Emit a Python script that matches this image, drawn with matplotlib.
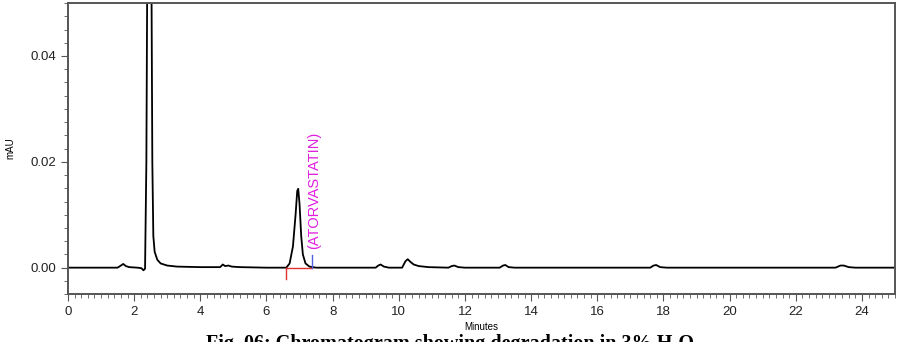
import numpy as np
import matplotlib
matplotlib.use("Agg")
import matplotlib.pyplot as plt
from matplotlib.ticker import MultipleLocator

# retention time (min) and absorbance (mAU)
minutes = [0.0, 1.5, 1.6, 1.67, 1.75, 1.85, 2.1, 2.22, 2.28, 2.33, 2.37, 2.40,
           2.45, 2.52, 2.55, 2.58, 2.62, 2.7, 2.8, 3.0, 3.3, 4.0, 4.6, 4.68,
           4.75, 4.85, 4.95, 5.2, 6.0, 6.6, 6.7, 6.8, 6.88, 6.93, 6.96, 7.0,
           7.05, 7.1, 7.18, 7.3, 7.5, 9.3, 9.38, 9.45, 9.55, 9.7, 10.1, 10.2,
           10.27, 10.35, 10.45, 10.6, 10.9, 11.5, 11.6, 11.68, 11.8, 12.0,
           13.05, 13.15, 13.22, 13.32, 13.5, 17.6, 17.7, 17.78, 17.9, 18.1,
           23.2, 23.35, 23.45, 23.6, 23.8, 25.0]
mau = [0.0, 0.0, 0.0004, 0.0007, 0.0003, 0.0001, 0.0, -0.0001, -0.0005,
       -0.0002, 0.02, 0.06, 0.08, 0.06, 0.02, 0.006, 0.003, 0.0015, 0.0008,
       0.0004, 0.0002, 0.0001, 0.0001, 0.0006, 0.0003, 0.0004, 0.0002, 0.0001,
       0.0, 0.0, 0.0008, 0.004, 0.010, 0.0145, 0.0149, 0.012, 0.006, 0.0025,
       0.0008, 0.0002, 0.0, 0.0, 0.0004, 0.0006, 0.0002, 0.0, 0.0, 0.0012,
       0.0016, 0.0011, 0.0006, 0.0003, 0.0001, 0.0, 0.0003, 0.0004, 0.0001,
       0.0, 0.0, 0.0004, 0.0005, 0.0001, 0.0, 0.0, 0.0004, 0.0005, 0.0001,
       0.0, 0.0, 0.0004, 0.0004, 0.0001, 0.0, 0.0]

peak_name = "(ATORVASTATIN)"
peak_start, peak_end = 6.58, 7.37
label_time = 7.45

plt.rcParams['font.family'] = ['Liberation Sans', 'DejaVu Sans']

fig = plt.figure(figsize=(9.05, 3.42), dpi=100)
ax = fig.add_axes([0.0751, 0.140, 0.989 - 0.0751, 0.991 - 0.140])

ax.plot(minutes, mau, color='black', lw=1.3)

# integration baseline marks
ax.plot([peak_start, peak_end], [0, 0], color='#e03030', lw=1)
ax.plot([peak_start, peak_start], [0, -0.0022], color='#e03030', lw=1)
ax.plot([peak_end, peak_end], [0, 0.0024], color='#5060e0', lw=1)
ax.text(label_time, 0.0035, peak_name, rotation=90, color='#e020e0',
        fontsize=10.5, ha='center', va='bottom')

ax.set_xlim(0, 25)
ax.set_ylim(-0.005, 0.05)
ax.xaxis.set_major_locator(MultipleLocator(2))
ax.xaxis.set_minor_locator(MultipleLocator(0.2))
ax.yaxis.set_major_locator(MultipleLocator(0.02))
ax.yaxis.set_minor_locator(MultipleLocator(0.0025))
ax.yaxis.set_major_formatter(matplotlib.ticker.FormatStrFormatter('%.2f'))

for s in ax.spines.values():
    s.set_color('#555555')
    s.set_linewidth(1.4)
ax.tick_params(which='both', direction='out', colors='#555555', labelcolor='#222222',
               labelsize=9.5)
ax.tick_params(which='major', length=5)
ax.tick_params(which='minor', length=3)

ax.set_xlabel("Minutes", fontsize=7)
ax.xaxis.set_label_coords(0.5, -0.095)
ax.set_ylabel("mAU", fontsize=7)
ax.yaxis.set_label_coords(-0.064, 0.5)

fig.text(0.5, 0.024, "Fig. 06: Chromatogram showing degradation in 3% H\u2082O\u2082",
         ha='center', va='top', fontsize=14.5, fontweight='bold',
         family=['Liberation Serif', 'DejaVu Serif'])

fig.savefig("out.png", dpi=100)
